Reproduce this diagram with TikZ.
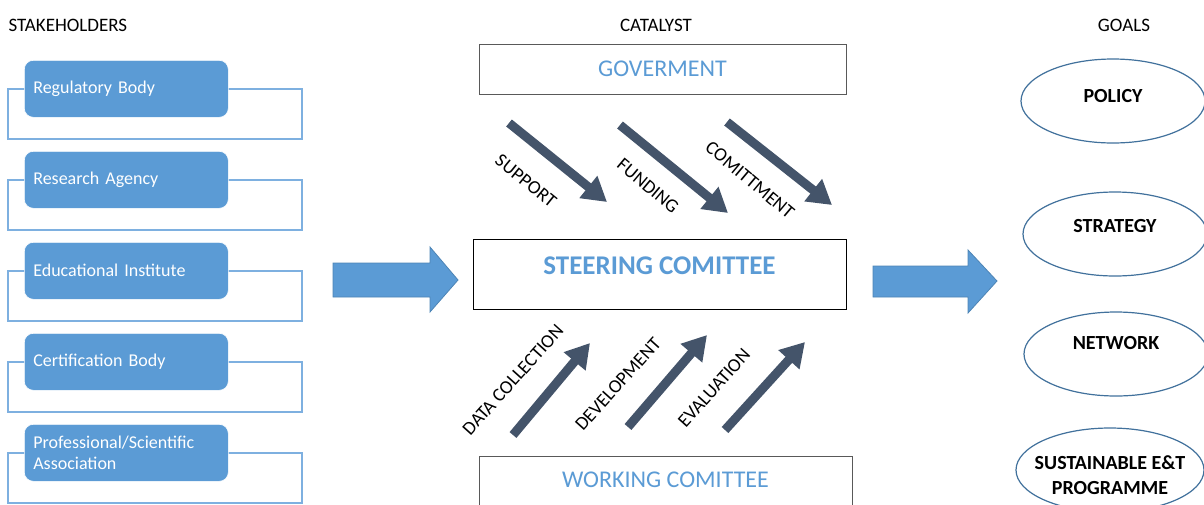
\documentclass[tikz,border=0pt]{standalone}
\usepackage{fontspec}
\setmainfont{Carlito}
\usetikzlibrary{arrows.meta,shapes.geometric}
\definecolor{sblue}{HTML}{5B9BD5}
\definecolor{oblue}{HTML}{7EB0E0}
\definecolor{slate}{HTML}{44546A}
\definecolor{eblue}{HTML}{41719C}
\definecolor{bordergray}{HTML}{595959}
\begin{document}
\begin{tikzpicture}[x=1pt,y=-1pt,
  hdr/.style={font=\fontsize{19}{23}\selectfont, text=black},
  stk/.style={anchor=north west, fill=sblue, draw=white, line width=0.6pt, rounded corners=9pt,
    minimum width=204pt, minimum height=57pt, text width=186pt, inner xsep=9pt, align=left,
    text=white, font=\fontsize{18}{21}\selectfont},
  outl/.style={draw=oblue, line width=1.2pt},
  cbox/.style={draw=bordergray, line width=0.8pt, fill=white},
  ctitle/.style={text=sblue, font=\fontsize{24}{28}\selectfont},
  darr/.style={draw=slate, line width=9pt, -{Triangle[width=27pt,length=24pt]}},
  dlbl/.style={font=\fontsize{19}{22}\selectfont, text=black},
  goal/.style={ellipse, draw=eblue, line width=1.2pt, fill=white, minimum width=184pt, minimum height=84pt},
  gtitle/.style={font=\bfseries\fontsize{20}{25}\selectfont, text=black, align=center},
  blockarr/.style={fill=sblue, draw=sblue!85!black, line width=0.8pt}
]
\useasboundingbox (0,0) rectangle (1204,504);

% headers
\node[hdr, anchor=west] (hs) at (5,25) {STAKEHOLDERS};
\node[hdr] (hc) at (656,25) {CATALYST};
\node[hdr] (hg) at (1124,25) {GOALS};

% stakeholders
\foreach \i/\t/\txt in {1/60/{Regulatory Body},2/151/{Research Agency},3/242/{Educational Institute},4/333/{Certification Body},5/424/{Professional/Scientific\\Association}}{
  \draw[outl] (8,\t+29) rectangle (302,\t+79);
  \node[stk] (s\i) at (24,\t) {\txt};
}

% block arrows
\path[blockarr] (333,263) -- (430,263) -- (430,247) -- (458,280) -- (430,312) -- (430,297) -- (333,297) -- cycle;
\path[blockarr] (873,266) -- (968,266) -- (968,250) -- (997,281) -- (968,313) -- (968,297) -- (873,297) -- cycle;

% catalyst boxes
\node[cbox, minimum width=367pt, minimum height=50pt,
  label={[ctitle]center:GOVERMENT}] (gov) at (662.5,69) {};
\node[cbox, draw=black, minimum width=373pt, minimum height=70pt,
  label={[ctitle, font=\bfseries\fontsize{27}{31}\selectfont, yshift=8pt]center:STEERING COMITTEE}] (st) at (659.5,274) {};
\node[cbox, minimum width=373pt, minimum height=64pt,
  label={[ctitle, yshift=8pt]center:WORKING COMITTEE}] (wk) at (665.5,488) {};

% diagonal arrows down
\coordinate (d1s) at (509,123); \coordinate (d1e) at (607,202);
\coordinate (d2s) at (620,125); \coordinate (d2e) at (728,213);
\coordinate (d3s) at (727,122); \coordinate (d3e) at (832,205);
\draw[darr] (d1s) -- (d1e);
\draw[darr] (d2s) -- (d2e);
\draw[darr] (d3s) -- (d3e);
\node[dlbl, rotate=-39] (l1) at (526,181) {SUPPORT};
\node[dlbl, rotate=-40] (l2) at (648,186) {FUNDING};
\node[dlbl, rotate=-40] (l3) at (750,180) {COMITTMENT};

% diagonal arrows up
\coordinate (u1s) at (513,435); \coordinate (u1e) at (590,343);
\coordinate (u2s) at (628,427); \coordinate (u2e) at (707,335);
\coordinate (u3s) at (725,430); \coordinate (u3e) at (805,342);
\draw[darr] (u1s) -- (u1e);
\draw[darr] (u2s) -- (u2e);
\draw[darr] (u3s) -- (u3e);
\node[dlbl, rotate=48] (l4) at (513,380) {DATA COLLECTION};
\node[dlbl, rotate=48] (l5) at (618,384) {DEVELOPMENT};
\node[dlbl, rotate=48] (l6) at (714,388) {EVALUATION};

% goals
\node[goal, label={[gtitle, yshift=5pt]center:POLICY}] (g1) at (1113,101) {};
\node[goal, label={[gtitle, yshift=8pt]center:STRATEGY}] (g2) at (1115,234) {};
\node[goal, label={[gtitle, yshift=11pt]center:NETWORK}] (g3) at (1116,354) {};
\node[goal, minimum width=188pt, label={[gtitle, yshift=-5pt]center:{SUSTAINABLE E\&T\\PROGRAMME}}] (g4) at (1110,470) {};
\end{tikzpicture}
\end{document}
